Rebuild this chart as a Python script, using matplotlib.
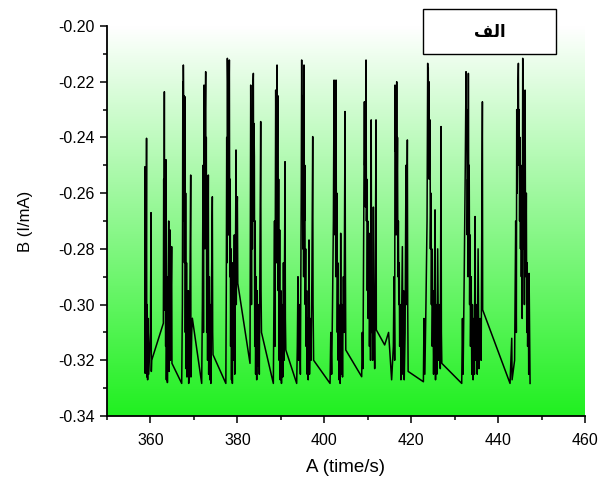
import numpy as np
import matplotlib
matplotlib.use("Agg")
import matplotlib.pyplot as plt
from matplotlib.colors import LinearSegmentedColormap
from matplotlib.patches import Rectangle
from matplotlib.ticker import MultipleLocator, FormatStrFormatter

plt.rcParams['font.family'] = ['Liberation Sans', 'DejaVu Sans']
plt.rcParams['axes.unicode_minus'] = False

# ---- data ----
time_s = [
    358.70, 358.75, 358.80, 358.85, 358.90, 359.00, 359.10, 359.15, 359.25, 359.35, 359.50, 359.60,
    360.00, 360.13, 360.20, 360.28,
    362.97, 363.05, 363.12, 363.20, 363.28, 363.40, 363.50, 363.58, 363.66, 363.80, 363.90, 364.05,
    364.20, 364.30, 364.50, 364.58, 364.70, 364.88, 364.95,
    367.19, 367.35, 367.45, 367.52, 367.57, 367.63, 367.70, 367.75, 367.82, 367.95, 368.02, 368.10,
    368.20, 368.30, 368.40, 368.50, 368.60, 368.72, 368.80, 369.00, 369.26, 369.32, 369.50, 369.64,
    371.79, 371.95, 372.10, 372.20, 372.33, 372.40, 372.48, 372.55, 372.62, 372.71, 372.78, 372.85,
    372.95, 373.05, 373.15, 373.32, 373.40, 373.55, 373.65, 373.80, 373.90, 374.05, 374.24, 374.32, 374.40,
    377.35, 377.45, 377.55, 377.62, 377.70, 377.76, 377.82, 377.88, 377.95, 378.05, 378.16, 378.25,
    378.35, 378.45, 378.55, 378.65, 378.75, 378.85, 378.95, 379.10, 379.30, 379.40, 379.55, 379.69,
    379.75, 379.88, 380.00, 380.10,
    382.91, 383.00, 383.07, 383.15, 383.25, 383.35, 383.45, 383.55, 383.68, 383.75, 383.83, 383.91,
    384.00, 384.10, 384.20, 384.30, 384.45, 384.55, 384.70, 384.90, 385.05, 385.20, 385.37, 385.45, 385.55,
    388.28, 388.40, 388.55, 388.65, 388.82, 388.90, 388.98, 389.05, 389.13, 389.20, 389.30, 389.40,
    389.50, 389.60, 389.74, 389.85, 390.00, 390.15, 390.30, 390.45, 390.60, 390.75, 390.97, 391.05, 391.15,
    393.65, 393.80, 393.95, 394.10, 394.30, 394.50, 394.70, 394.80, 394.88, 394.96, 395.05, 395.15,
    395.25, 395.34, 395.42, 395.52, 395.62, 395.72, 395.82, 395.95, 396.05, 396.15, 396.30, 396.49,
    396.60, 396.80, 396.95, 397.15, 397.34, 397.42, 397.55,
    401.33, 401.50, 401.70, 401.90, 402.10, 402.25, 402.32, 402.40, 402.48, 402.56, 402.64, 402.71,
    402.80, 402.90, 403.00, 403.10, 403.20, 403.30, 403.40, 403.55, 403.65, 403.78, 403.90, 404.05,
    404.20, 404.40, 404.55, 404.78, 404.85, 404.95,
    408.61, 408.75, 408.90, 409.05, 409.23, 409.30, 409.40, 409.48, 409.55, 409.61, 409.70, 409.80,
    409.90, 410.00, 410.10, 410.20, 410.30, 410.40, 410.50, 410.65, 410.80, 410.88, 411.00, 411.15,
    411.30, 411.40, 411.60, 411.75, 411.91, 411.98, 413.90, 414.80, 415.50,
    415.90, 416.05, 416.20, 416.28, 416.35, 416.45, 416.55, 416.67, 416.75, 416.85, 416.95, 417.05,
    417.15, 417.25, 417.35, 417.50, 417.65, 417.80, 417.97, 418.10, 418.25, 418.40, 418.60, 418.80,
    418.90, 419.12, 419.20, 419.30,
    422.81, 422.95, 423.15, 423.40, 423.65, 423.80, 423.86, 423.93, 424.00, 424.08, 424.15, 424.25,
    424.34, 424.42, 424.55, 424.65, 424.75, 424.85, 425.00, 425.15, 425.30, 425.49, 425.60, 425.75,
    425.90, 426.10, 426.30, 426.50, 426.70, 426.87, 426.95, 427.05,
    431.63, 431.80, 431.95, 432.20, 432.45, 432.62, 432.70, 432.80, 432.90, 433.00, 433.08, 433.16,
    433.25, 433.35, 433.45, 433.55, 433.65, 433.80, 433.95, 434.10, 434.25, 434.40, 434.55, 434.70,
    434.80, 435.00, 435.20, 435.40, 435.60, 435.85, 436.10, 436.39, 436.45,
    442.75, 443.14, 443.22, 443.80,
    444.05, 444.20, 444.29, 444.40, 444.50, 444.60, 444.67, 444.75, 444.85, 444.95, 445.05, 445.15,
    445.25, 445.35, 445.45, 445.55, 445.67, 445.75, 445.85, 445.95, 446.05, 446.21, 446.30, 446.40,
    446.50, 446.60, 446.70, 446.80, 446.95, 447.05, 447.13, 447.20, 447.36,
]

current_mA = [
    -0.2900, -0.2505, -0.3247, -0.2690, -0.3180, -0.2960, -0.2403, -0.3260, -0.3000, -0.3270, -0.3050, -0.3250,
    -0.3100, -0.2670, -0.3240, -0.3200,
    -0.3067, -0.2550, -0.2800, -0.2236, -0.3020, -0.2600, -0.3150, -0.2480, -0.3270, -0.2900, -0.3280, -0.2960,
    -0.2700, -0.3240, -0.2732, -0.3200, -0.3050, -0.2792, -0.3211,
    -0.3283, -0.3000, -0.2200, -0.2600, -0.2140, -0.2300, -0.2700, -0.2250, -0.2850, -0.2254, -0.3100, -0.2600,
    -0.3230, -0.2850, -0.3260, -0.3000, -0.3240, -0.2950, -0.3283, -0.3150, -0.2535, -0.3260, -0.3100, -0.3049,
    -0.3283, -0.3000, -0.2500, -0.3100, -0.2212, -0.2500, -0.2350, -0.2800, -0.2300, -0.2164, -0.2700, -0.2400,
    -0.3100, -0.2750, -0.3200, -0.2535, -0.3250, -0.2900, -0.3270, -0.3000, -0.3283, -0.2950, -0.2613, -0.3100, -0.3180,
    -0.3283, -0.2950, -0.2400, -0.2850, -0.2116, -0.2200, -0.2600, -0.2150, -0.2750, -0.2300, -0.2122, -0.2900,
    -0.2550, -0.3150, -0.2800, -0.3270, -0.2950, -0.3283, -0.2850, -0.3200, -0.2750, -0.3250, -0.2900, -0.2445,
    -0.3000, -0.2700, -0.2613, -0.2924,
    -0.3211, -0.2600, -0.2212, -0.2500, -0.3000, -0.2400, -0.2800, -0.2250, -0.2170, -0.2700, -0.2350, -0.2469,
    -0.3150, -0.2700, -0.3250, -0.2900, -0.3270, -0.2950, -0.3220, -0.3000, -0.3250, -0.2800, -0.2343, -0.2950, -0.3100,
    -0.3283, -0.3000, -0.2700, -0.3150, -0.2230, -0.2500, -0.2300, -0.2850, -0.2140, -0.2600, -0.2250, -0.2950,
    -0.2550, -0.3200, -0.2732, -0.3270, -0.2950, -0.3283, -0.3000, -0.3260, -0.2850, -0.3200, -0.2487, -0.3050, -0.3163,
    -0.3283, -0.3150, -0.2900, -0.3200, -0.3000, -0.3250, -0.2600, -0.2122, -0.2400, -0.2250, -0.2800, -0.2300,
    -0.2900, -0.2140, -0.2700, -0.2500, -0.3000, -0.2800, -0.3150, -0.2950, -0.3250, -0.3050, -0.3270, -0.2768,
    -0.3250, -0.3050, -0.3200, -0.2900, -0.2397, -0.3000, -0.3200,
    -0.3283, -0.3100, -0.3250, -0.3000, -0.2700, -0.2194, -0.2450, -0.2300, -0.2750, -0.2350, -0.2900, -0.2194,
    -0.2850, -0.2600, -0.3100, -0.2850, -0.3200, -0.3000, -0.3270, -0.3050, -0.3283, -0.2744, -0.3250, -0.3000,
    -0.3260, -0.2900, -0.3100, -0.2307, -0.2800, -0.3163,
    -0.3259, -0.3100, -0.3230, -0.2800, -0.2272, -0.2500, -0.2350, -0.2650, -0.2450, -0.2122, -0.2700, -0.2550,
    -0.2950, -0.2700, -0.3050, -0.2800, -0.2744, -0.3150, -0.2950, -0.3200, -0.2337, -0.3100, -0.2950, -0.3200,
    -0.2650, -0.3000, -0.3230, -0.2900, -0.2337, -0.3091, -0.3145, -0.3100, -0.3270,
    -0.3150, -0.2900, -0.3200, -0.2212, -0.2450, -0.2300, -0.2750, -0.2200, -0.2600, -0.2400, -0.2900, -0.2700,
    -0.3000, -0.2850, -0.3150, -0.3000, -0.3270, -0.3050, -0.2792, -0.3250, -0.2950, -0.3270, -0.3100, -0.2500,
    -0.3000, -0.2409, -0.3000, -0.3240,
    -0.3277, -0.3050, -0.3250, -0.3000, -0.2700, -0.2134, -0.2300, -0.2150, -0.2400, -0.2200, -0.2550, -0.2350,
    -0.2337, -0.2800, -0.2600, -0.3000, -0.2800, -0.3150, -0.2950, -0.3250, -0.3050, -0.2660, -0.3270, -0.3000,
    -0.3250, -0.2800, -0.3200, -0.3000, -0.3230, -0.2361, -0.3100, -0.3211,
    -0.3283, -0.3050, -0.3250, -0.2900, -0.2500, -0.2164, -0.2400, -0.2300, -0.2750, -0.2550, -0.2900, -0.2170,
    -0.2650, -0.2500, -0.3000, -0.2750, -0.3150, -0.2900, -0.3250, -0.3000, -0.3270, -0.3050, -0.3250, -0.2684,
    -0.3200, -0.3000, -0.3250, -0.2800, -0.3230, -0.3050, -0.3200, -0.2272, -0.3019,
    -0.3283, -0.3121, -0.3270, -0.3200,
    -0.2700, -0.3100, -0.2300, -0.2600, -0.2400, -0.2200, -0.2134, -0.2500, -0.2300, -0.2700, -0.2400, -0.2800,
    -0.2500, -0.2900, -0.2600, -0.3050, -0.2116, -0.2400, -0.2800, -0.2500, -0.3000, -0.2230, -0.2700, -0.2900,
    -0.2600, -0.3100, -0.2850, -0.3150, -0.2950, -0.3250, -0.2888, -0.3000, -0.3283,
]

x_ticks = [360, 380, 400, 420, 440, 460]
y_ticks = [-0.34, -0.32, -0.30, -0.28, -0.26, -0.24, -0.22, -0.20]
x_label = "A (time/s)"
y_label = "B (I/mA)"
# Arabic word "الف" written in shaped (presentation) forms, visual order,
# because matplotlib 3.10 does not shape right-to-left text.
legend_text = "\uFED2\uFEDF\uFE8D"

# ---- figure ----
fig = plt.figure(figsize=(6.03, 4.78), dpi=100)
ax = fig.add_axes([107/603, 1 - 416/478, (585-107)/603, (416-26)/478])

xmin, xmax = 350, 460
ymin, ymax = -0.34, -0.20

cmap = LinearSegmentedColormap.from_list("wg", ["#ffffff", "#20f020"])
grad = np.linspace(1, 0, 256).reshape(-1, 1)   # row 0 (bottom) = green
ax.imshow(grad, extent=[xmin, xmax, ymin, ymax], origin="lower", aspect="auto",
          cmap=cmap, vmin=0, vmax=1, zorder=0, interpolation="bicubic")

ax.plot(time_s, current_mA, color="black", lw=1.1, zorder=2)

ax.set_xlim(xmin, xmax)
ax.set_ylim(ymin, ymax)
ax.set_xticks(x_ticks)
ax.set_yticks(y_ticks)
ax.xaxis.set_minor_locator(MultipleLocator(10))
ax.yaxis.set_minor_locator(MultipleLocator(0.01))
ax.yaxis.set_major_formatter(FormatStrFormatter("%.2f"))

for s in ["top", "right"]:
    ax.spines[s].set_visible(False)
for s in ["left", "bottom"]:
    ax.spines[s].set_linewidth(1.3)
    ax.spines[s].set_color("black")

ax.tick_params(which="major", direction="out", length=5, width=1.1, labelsize=11.5)
ax.tick_params(which="minor", direction="out", length=3, width=1.1)
ax.tick_params(axis="x", which="major", pad=7)
ax.tick_params(axis="y", which="major", pad=4)

ax.set_xlabel(x_label, fontsize=13.5, labelpad=8)
ax.set_ylabel(y_label, fontsize=12, labelpad=18)

box = Rectangle((423/603, 1 - 54/478), 133/603, 45/478, transform=fig.transFigure,
                facecolor="white", edgecolor="black", lw=1.0, zorder=5)
fig.patches.append(box)
fig.text((423+556)/2/603, 1 - 32/478, legend_text, ha="center", va="center",
         fontsize=12, fontweight="bold", family=["DejaVu Sans"], zorder=6)

fig.savefig("out.png", dpi=100)
